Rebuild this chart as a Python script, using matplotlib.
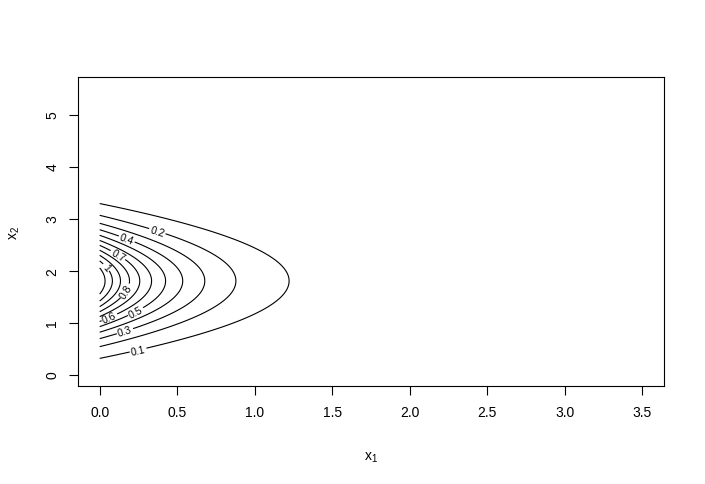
import numpy as np
import matplotlib.pyplot as plt

plt.rcParams['font.family'] = ['Liberation Sans', 'DejaVu Sans']
plt.rcParams['mathtext.fontset'] = 'custom'
plt.rcParams['mathtext.rm'] = 'Liberation Sans'

# surface: z = peak * exp(-rate*x1 - (x2-centre)^2 / (2*sd^2))
peak = 1.18
rate = 2.02
centre = 1.8
sd = 0.67

x1_range = [0.0, 3.5]
x2_range = [0.0, 5.5]
levels = [0.1, 0.2, 0.3, 0.4, 0.5, 0.6, 0.7, 0.8, 0.9, 1.0, 1.1]

# where the labels sit
label_pos = [(0.25, 0.44), (0.37, 2.74), (0.17, 0.77), (0.17, 2.57), (0.24, 1.16),
             (0.06, 1.12), (0.11, 2.26), (0.15, 1.64), (0.03, 2.03)]

x1 = np.linspace(x1_range[0], x1_range[1], 200)
x2 = np.linspace(x2_range[0], x2_range[1], 300)
X1, X2 = np.meshgrid(x1, x2)
Z = peak * np.exp(-rate * X1 - (X2 - centre) ** 2 / (2 * sd ** 2))

fig = plt.figure(figsize=(7.05, 4.85), dpi=100)
ax = fig.add_axes([0.1106, 0.202, 0.8312, 0.637])

cs = ax.contour(X1, X2, Z, levels=levels, colors='black', linewidths=0.8)
ax.clabel(cs, fontsize=7.5, inline=True, inline_spacing=2, fmt='%g', manual=label_pos)

ax.set_xlim(-0.14, 3.64)
ax.set_ylim(-0.22, 5.72)
ax.set_xticks([0, 0.5, 1, 1.5, 2, 2.5, 3, 3.5])
ax.set_xticklabels(['0.0', '0.5', '1.0', '1.5', '2.0', '2.5', '3.0', '3.5'])
ax.set_yticks([0, 1, 2, 3, 4, 5])
ax.tick_params(length=6.5, width=0.8, labelsize=10, pad=7)
for lab in ax.get_yticklabels():
    lab.set_rotation(90)
    lab.set_va('center')
for s in ax.spines.values():
    s.set_linewidth(0.8)

ax.set_xlabel('x$_{\\mathregular{1}}$', fontsize=10, labelpad=22)
ax.set_ylabel('x$_{\\mathregular{2}}$', fontsize=10, labelpad=17)

fig.savefig('out.png', dpi=100)
